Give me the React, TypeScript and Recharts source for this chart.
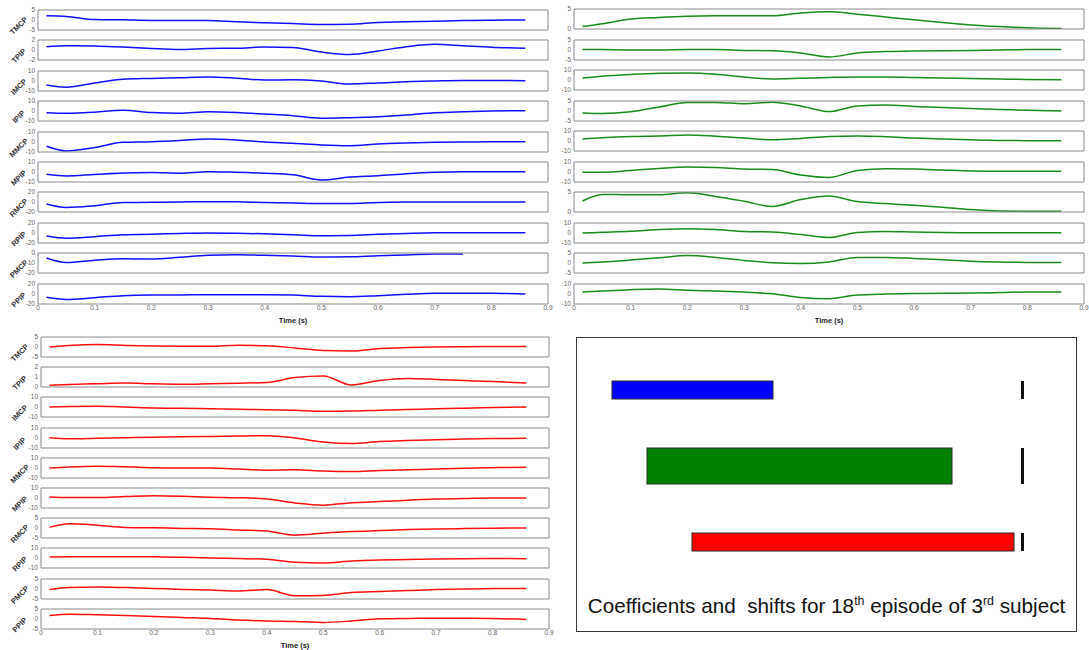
import React from 'react';
import { LineChart, Line, XAxis, YAxis, BarChart, Bar, Cell } from 'recharts';

// sample times (s) shared by every joint trace
const TIME = [0.015, 0.05, 0.1, 0.15, 0.2, 0.25, 0.3, 0.35, 0.4, 0.45, 0.5, 0.55, 0.6, 0.65, 0.7, 0.75, 0.8, 0.86];
const X_TICKS = [0, 0.1, 0.2, 0.3, 0.4, 0.5, 0.6, 0.7, 0.8, 0.9];
const JOINTS = ['TMCP', 'TPIP', 'IMCP', 'IPIP', 'MMCP', 'MPIP', 'RMCP', 'RPIP', 'PMCP', 'PPIP'];

// blue panel (top left)
const BLUE_TMCP = [2.1, 1.8, 0.2, 0.1, -0.2, -0.2, -0.3, -0.9, -1.4, -1.8, -2.2, -2.1, -1.2, -0.9, -0.6, -0.3, -0.1, 0];
const BLUE_TPIP = [0.65, 0.85, 0.8, 0.6, 0.3, 0.1, 0.3, 0.35, 0.6, 0.5, -0.4, -0.9, -0.2, 0.65, 1.15, 0.85, 0.55, 0.35];
const BLUE_IMCP = [-4, -6.2, -2, 1.8, 2.6, 3.3, 4, 2.8, 1, 1.2, 0, -3, -2, -0.7, 0, 0.5, 0.5, 0.3];
const BLUE_IPIP = [-1.7, -2.3, -1.2, 0.8, -1.5, -2.3, -0.8, -1.5, -3, -4.7, -7.3, -6.7, -5.7, -4, -1.7, -0.7, 0, 0.3];
const BLUE_MMCP = [-4.3, -9, -5.5, -0.3, 0.3, 1.5, 3, 2, 0, -1.3, -3, -3.7, -2, -1, -0.3, 0, 0.2, 0.3];
const BLUE_MPIP = [-2.3, -4, -2.5, -1, -0.5, -1.2, 0.3, -0.3, -1.2, -2.7, -8, -5, -3.7, -1.7, -0.3, 0.3, 0.3, 0.3];
const BLUE_RMCP = [-4, -11, -7.3, -1, -0.7, 0, 0.7, 0.3, -1, -2, -3, -2.8, -1, 0, 0, 0, 0, 0];
const BLUE_RPIP = [-6, -10.5, -7.3, -3.3, -2.5, -1, 0, -0.5, -1.7, -3.5, -5.5, -5, -2.5, -0.8, 0.5, 0.7, 0.7, 0.7];
const BLUE_PMCP = [-5, -9.5, -7.3, -5.8, -6, -4.3, -2.3, -1.8, -2.3, -3, -4, -3.8, -2.7, -2, -1.1, -1, null, null];
const BLUE_PPIP = [-6.7, -11, -7.3, -3.3, -2, -1.8, -1.5, -1.3, -1.3, -2, -4.7, -5.3, -3.3, -0.7, 1.3, 1.3, 1.3, 0];
const BLUE_TICKS = [[-5, 0, 5], [-2, 0, 2], [-10, 0, 10], [-10, 0, 10], [-10, 0, 10], [-10, 0, 10], [-20, 0, 20], [-20, 0, 20], [-20, -10, 0], [-20, 0, 20]];

// green panel (top right)
const GREEN_TMCP = [0.6, 1.3, 2.5, 2.9, 3.2, 3.3, 3.3, 3.3, 4.0, 4.3, 3.7, 3.0, 2.3, 1.6, 1.0, 0.6, 0.3, 0.1];
const GREEN_TPIP = [0.3, 0.2, 0, 0, 0.2, 0.2, -0.2, -0.4, -1.5, -3.5, -1.5, -0.8, -0.5, -0.4, -0.2, 0, 0.2, 0.3];
const GREEN_IMCP = [2, 3.8, 5.5, 6.7, 7, 5.8, 3, 1, 1.7, 2.5, 3, 3, 2.5, 2, 1.5, 1, 0.5, 0.3];
const GREEN_IPIP = [-1, -1.3, -0.4, 2, 4.3, 4.3, 3.6, 4.4, 2.5, -0.3, 2.5, 3, 2.3, 1.7, 1.2, 0.8, 0.4, 0];
const GREEN_MMCP = [2, 3.3, 4.5, 5, 6, 4.8, 3, 1.2, 2.5, 4.5, 5, 4.3, 3, 2, 1.2, 0.6, 0.3, 0.2];
const GREEN_MPIP = [-0.3, -0.3, 1.5, 3.5, 5, 4.5, 3, 2.5, -3, -5.5, 1.5, 3.3, 3, 2, 1, 0.7, 0.7, 0.7];
const GREEN_RMCP = [2.75, 4.4, 4.3, 4.3, 4.8, 3.9, 2.7, 1.4, 3.1, 4.0, 2.6, 2.1, 1.7, 1.2, 0.6, 0.25, 0.2, 0.2];
const GREEN_RPIP = [0, 0.7, 1.7, 3.5, 4.3, 3.5, 1.6, 1.1, -1.5, -4.5, 0.5, 1.5, 1, 0.5, 0.3, 0.3, 0.3, 0.3];
const GREEN_PMCP = [0, 0.5, 1.5, 2.6, 3.7, 2.8, 1.3, 0.1, -0.3, 0.5, 2.8, 2.8, 2.3, 1.6, 0.9, 0.5, 0.3, 0.3];
const GREEN_PPIP = [2, 3, 4.3, 5, 3.8, 3, 2, 0.2, -3.5, -4.7, -1, 0, 0.5, 0.7, 1, 1.4, 2, 2];
const GREEN_TICKS = [[0, 5], [-5, 0, 5], [-10, 0, 10], [-5, 0, 5], [-10, 0, 10], [-10, 0, 10], [0, 5], [-10, 0, 10], [-5, 0, 5], [-10, 0, 10]];

// red panel (bottom left)
const RED_TMCP = [0, 0.8, 1.2, 0.8, 0.5, 0.4, 0.4, 0.9, 0.6, -0.5, -1.8, -2, -0.8, -0.3, 0, 0.1, 0.2, 0.2];
const RED_TPIP = [0.17, 0.25, 0.33, 0.4, 0.32, 0.28, 0.33, 0.38, 0.45, 0.95, 1.1, 0.2, 0.65, 0.85, 0.75, 0.65, 0.55, 0.4];
const RED_IMCP = [0, 0.5, 0.7, 0, -1, -1.3, -1.7, -2.3, -2.7, -3.3, -4.2, -4, -3.2, -2.5, -1.8, -1.2, -0.6, 0];
const RED_IPIP = [0.2, -0.8, -0.3, 0.3, 0.8, 1.2, 1.5, 2, 2.3, 0, -4, -5.5, -3.5, -2.5, -1.7, -1, -0.5, -0.3];
const RED_MMCP = [0, 1, 1.7, 1.2, 0.3, 0, 0, -1, -2.2, -1.8, -3, -3.5, -2.5, -1.8, -1, -0.3, 0.3, 0.8];
const RED_MPIP = [1, 0.5, 0.5, 1.5, 2.3, 1.8, 0.8, 0.3, -1, -5, -7.2, -4.7, -3.5, -2.2, -1, -0.5, 0, 0];
const RED_RMCP = [0.3, 2.1, 1.4, 0.3, 0.1, -0.2, -0.4, -1, -1.5, -3.6, -2.6, -1.8, -1.3, -0.8, -0.5, -0.3, -0.1, 0];
const RED_RPIP = [1, 1.2, 1.3, 1.3, 1.2, 0.7, 0, -0.5, -1.3, -4.3, -5, -3, -2, -1.5, -1, -0.7, -0.5, -0.7];
const RED_PMCP = [-0.2, 0.8, 1, 0.7, 0.3, -0.2, -0.5, -1, -0.3, -3.4, -3.2, -1.8, -1.3, -0.8, -0.3, 0, 0.2, 0.3];
const RED_PPIP = [1.75, 2.4, 2.1, 1.7, 1.3, 0.8, 0.3, -0.5, -1, -1.2, -1.7, -1, 0.1, 0.3, 0.4, 0.4, 0.3, -0.3];
const RED_TICKS = [[-5, 0, 5], [0, 1, 2], [-10, 0, 10], [-10, 0, 10], [-10, 0, 10], [-10, 0, 10], [-5, 0, 5], [-10, 0, 10], [-5, 0, 5], [-5, 0, 5]];

// coefficient / shift bars (bottom right box)
const BAR_GROUPS = ['blue', 'green', 'red'];
const SHIFT_FROM = [7.2, 14.2, 23.2];
const SHIFT_TO = [39.4, 75.2, 87.6];
const COEFFICIENT = [0.5, 1, 0.5];
const MARK_AT = 89.3;

const BAR_COLORS = ['#0000ff', '#008000', '#ff0000'];
const AXIS = '#8a8a8a';
const TICK = '#666';
const AX_W = 24;
const BOX_H = 20;
const PAD = 5;

const PANELS = [
  { series: [BLUE_TMCP, BLUE_TPIP, BLUE_IMCP, BLUE_IPIP, BLUE_MMCP, BLUE_MPIP, BLUE_RMCP, BLUE_RPIP, BLUE_PMCP, BLUE_PPIP], ticks: BLUE_TICKS, color: '#1010ff', left: 38, width: 510, top: 10, step: 30.4, labelX: 19 },
  { series: [GREEN_TMCP, GREEN_TPIP, GREEN_IMCP, GREEN_IPIP, GREEN_MMCP, GREEN_MPIP, GREEN_RMCP, GREEN_RPIP, GREEN_PMCP, GREEN_PPIP], ticks: GREEN_TICKS, color: '#1a8c1a', left: 574, width: 510, top: 9, step: 30.5, labelX: null },
  { series: [RED_TMCP, RED_TPIP, RED_IMCP, RED_IPIP, RED_MMCP, RED_MPIP, RED_RMCP, RED_RPIP, RED_PMCP, RED_PPIP], ticks: RED_TICKS, color: '#ff1010', left: 41, width: 508, top: 337, step: 30.2, labelX: 20 },
];

const JointRow = ({ values, ticks, color, left, top, width, last }: any) => {
  const data = TIME.map((t, i) => ({ t, v: values[i] }));
  const axisH = last ? 19 : 1;
  const lo = ticks[0];
  const hi = ticks[ticks.length - 1];
  return (
    <div style={{ position: 'absolute', left: left - AX_W, top: top - PAD }}>
      <LineChart width={AX_W + width + PAD} height={BOX_H + 2 * PAD + axisH} data={data}
        margin={{ top: PAD - 1, right: PAD - 1, bottom: PAD, left: 0 }}>
        <XAxis xAxisId="b" dataKey="t" type="number" domain={[0, 0.9]} ticks={last ? X_TICKS : []}
          interval={0} height={axisH} stroke={AXIS} tickLine={false} tickSize={1} tickMargin={0}
          tick={last ? { fontSize: 6.5, fill: TICK } : false}
          label={last ? { value: 'Time (s)', position: 'insideBottom', offset: 0, fontSize: 7.5, fontWeight: 'bold', fill: '#222' } : undefined} />
        {/* top border, with inward ticks like the matlab box */}
        <XAxis xAxisId="t" orientation="top" type="number" domain={[0, 0.9]} ticks={last ? X_TICKS.slice(1, -1) : []}
          interval={0} height={1} stroke={AXIS} tickSize={-3} tick={false} />
        <YAxis yAxisId="l" type="number" domain={[lo, hi]} ticks={ticks} interval={0} width={AX_W}
          stroke={AXIS} tickLine={false} tickSize={2} tickMargin={1} allowDataOverflow
          tick={{ fontSize: 6.5, fill: TICK }} />
        <YAxis yAxisId="r" orientation="right" type="number" domain={[lo, hi]} ticks={ticks} interval={0} width={1}
          stroke={AXIS} tickSize={-3} tick={false} />
        <Line xAxisId="b" yAxisId="l" dataKey="v" type="monotone" stroke={color} strokeWidth={1.5}
          dot={false} isAnimationActive={false} />
      </LineChart>
    </div>
  );
};

// bar with thickness scaled by its coefficient, plus the black mark at the shift reference
const CoefBar = (props: any) => {
  const { x, y, width, height, payload, fill } = props;
  const [from, to] = payload.range;
  const h = height * payload.coef;
  const cy = y + height / 2;
  const perUnit = width / (to - from);
  const mx = x + (MARK_AT - from) * perUnit;
  return (
    <g>
      <rect x={x} y={cy - h / 2} width={width} height={h} fill={fill} stroke="#2b2b2b" strokeWidth={1} />
      <rect x={mx - 1.5} y={cy - h / 2} width={3} height={h} fill="#111" />
    </g>
  );
};

const supStyle: React.CSSProperties = { fontSize: '0.6em', verticalAlign: 'super', lineHeight: 0 };

export default function App() {
  const barData = BAR_GROUPS.map((name, i) => ({ name, range: [SHIFT_FROM[i], SHIFT_TO[i]], coef: COEFFICIENT[i] }));

  return (
    <div style={{ position: 'absolute', left: 0, top: 0, width: 1089, height: 650, overflow: 'hidden', background: '#fff', fontFamily: '"Liberation Sans", Arial, Helvetica, sans-serif' }}>
      {PANELS.map((p, pi) =>
        p.series.map((values, i) => {
          const top = p.top + i * p.step;
          return (
            <React.Fragment key={`${pi}-${i}`}>
              <JointRow values={values} ticks={p.ticks[i]} color={p.color} left={p.left} top={top}
                width={p.width} last={i === p.series.length - 1} />
              {p.labelX !== null && (
                <div style={{ position: 'absolute', left: p.labelX, top: top + BOX_H / 2 + 6, transform: 'translate(-50%, -50%) rotate(-45deg)', fontSize: 7.5, fontWeight: 'bold', color: '#333', whiteSpace: 'nowrap', lineHeight: 1 }}>
                  {JOINTS[i]}
                </div>
              )}
            </React.Fragment>
          );
        })
      )}

      <div style={{ position: 'absolute', left: 576, top: 337, width: 501, height: 295, border: '1px solid #3a3a3a', boxSizing: 'border-box' }} />
      <div style={{ position: 'absolute', left: 576, top: 337 }}>
        <BarChart layout="vertical" width={500} height={243} data={barData} margin={{ top: 15, right: 0, bottom: 0, left: 0 }}>
          <XAxis type="number" domain={[0, 100]} hide />
          <YAxis type="category" dataKey="name" hide width={0} />
          <Bar dataKey="range" barSize={36} shape={CoefBar} isAnimationActive={false}>
            {barData.map((d, i) => <Cell key={d.name} fill={BAR_COLORS[i]} />)}
          </Bar>
        </BarChart>
      </div>
      <div style={{ position: 'absolute', left: 576, top: 596, width: 501, textAlign: 'center', fontSize: 20.7, lineHeight: '20.7px', color: '#111', whiteSpace: 'pre' }}>
        {'Coefficients and  shifts for 18'}<sup style={supStyle}>th</sup>{' episode of 3'}<sup style={supStyle}>rd</sup>{' subject'}
      </div>
    </div>
  );
}
